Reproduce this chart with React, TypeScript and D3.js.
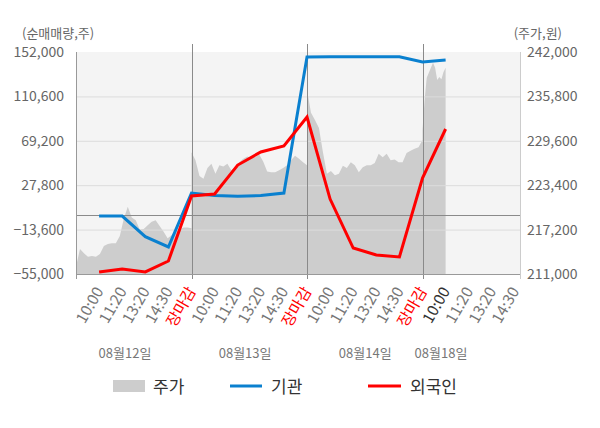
import React, { useEffect, useRef } from 'react'
import * as d3 from 'd3'

// x axis: one slot per provisional-data time
const timeLabels = [
	'10:00', '11:20', '13:20', '14:30', '장마감',
	'10:00', '11:20', '13:20', '14:30', '장마감',
	'10:00', '11:20', '13:20', '14:30', '장마감',
	'10:00', '11:20', '13:20', '14:30',
]
const dayLabels = ['08월12일', '08월13일', '08월14일', '08월18일']

// net buying (주), one value per slot up to now
const institution = [
	-1000, -1000, -20200, -29800, 20500,
	18200, 17400, 18200, 20500, 147300,
	147600, 147600, 147600, 147600, 142700,
	144500,
]
const foreign = [
	-53100, -50300, -53100, -42900, 17700,
	19600, 46600, 58800, 64400, 91400,
	14900, -30800, -37300, -39100, 34500,
	80200,
]

// price (원), evenly spaced samples through each session
const priceDay1 = [212000, 214500, 213900, 213400, 213500, 213400, 213800, 214900, 215200, 215300, 215300, 216300, 218700, 220400, 218900, 218500, 217200, 217300, 217800, 218300, 218500, 217700, 216900, 216000, 216400, 216900, 217200, 217500, 217500, 217400]
const priceDay2 = [228000, 226900, 224700, 224300, 225800, 226400, 225000, 226200, 226000, 226400, 225500, 225900, 226600, 227100, 227400, 227200, 227300, 227700, 226700, 225300, 225200, 225200, 225500, 225800, 226200, 226900, 227500, 227100, 226600, 226200]
const priceDay3 = [236700, 233500, 232500, 231400, 228000, 225000, 225400, 224800, 225000, 226100, 225800, 226600, 226200, 225200, 225900, 226200, 226200, 226500, 227800, 227300, 227800, 226900, 227000, 226600, 226600, 227900, 228200, 228500, 228700, 229700]
const priceDay4 = [231100, 235300, 238400, 239100, 239800, 240500, 239800, 238100, 238500, 238200, 239200, 239800]

const leftTicks = [152000, 110600, 69200, 27800, -13600, -55000]
const rightTicks = [242000, 235800, 229600, 223400, 217200, 211000]

export default function App() {
	const ref = useRef<SVGSVGElement>(null)

	useEffect(() => {
		drawChart()
	}, [])

	const drawChart = () => {
		const width = 600
		const height = 428
		const plot = { left: 76, right: 520, top: 52, bottom: 274 }
		const font = '"Noto Sans CJK KR", "Noto Sans", sans-serif'

		const svg = d3.select(ref.current)
		svg.selectAll('*').remove()
		svg.attr('width', width).attr('height', height)

		const x = d3.scaleLinear().domain([-1, 18.22]).range([plot.left, plot.right])
		const yL = d3.scaleLinear().domain([-55000, 152000]).range([plot.bottom, plot.top])
		const yR = d3.scaleLinear().domain([211000, 242000]).range([plot.bottom, plot.top])
		const fmt = d3.format(',')

		// background
		svg.append('rect')
			.attr('x', plot.left).attr('y', plot.top)
			.attr('width', plot.right - plot.left).attr('height', plot.bottom - plot.top)
			.attr('fill', '#f4f4f4')

		// price area
		const sessions = [
			{ start: -1, span: 5, data: priceDay1 },
			{ start: 4, span: 5, data: priceDay2 },
			{ start: 9, span: 5, data: priceDay3 },
			{ start: 14, span: 1, data: priceDay4 },
		]
		const pricePoints = sessions.flatMap(d =>
			d.data.map((p, j) => ({ s: d.start + (d.span * j) / (d.data.length - 1), p }))
		)
		const area = d3.area<{ s: number, p: number }>()
			.x(d => x(d.s))
			.y0(plot.bottom)
			.y1(d => yR(d.p))
		svg.append('path')
			.attr('d', area(pricePoints))
			.attr('fill', '#cdcdcd')

		// grid
		svg.append('g')
			.selectAll('line')
			.data(leftTicks.slice(1, -1))
			.enter()
			.append('line')
			.attr('x1', plot.left).attr('x2', plot.right)
			.attr('y1', d => yL(d) + 0.5).attr('y2', d => yL(d) + 0.5)
			.attr('stroke', '#dcdcdc')

		// zero line
		svg.append('line')
			.attr('x1', plot.left).attr('x2', plot.right)
			.attr('y1', Math.round(yL(0)) + 0.5).attr('y2', Math.round(yL(0)) + 0.5)
			.attr('stroke', '#8a8a8a')

		// day separators
		svg.append('g')
			.selectAll('line')
			.data([4, 9, 14])
			.enter()
			.append('line')
			.attr('x1', d => Math.round(x(d)) + 0.5).attr('x2', d => Math.round(x(d)) + 0.5)
			.attr('y1', plot.top - 8).attr('y2', plot.bottom + 5)
			.attr('stroke', '#8a8a8a')

		// axes lines
		svg.append('line')
			.attr('x1', plot.left + 0.5).attr('x2', plot.left + 0.5)
			.attr('y1', plot.top).attr('y2', plot.bottom + 5)
			.attr('stroke', '#999')
		svg.append('line')
			.attr('x1', plot.right + 0.5).attr('x2', plot.right + 0.5)
			.attr('y1', plot.top).attr('y2', plot.bottom + 5)
			.attr('stroke', '#ccc')
		svg.append('line')
			.attr('x1', plot.left).attr('x2', plot.right)
			.attr('y1', plot.bottom + 0.5).attr('y2', plot.bottom + 0.5)
			.attr('stroke', '#999')

		// lines
		const line = d3.line<number>()
			.x((_, i) => x(i))
			.y(d => yL(d))
		svg.append('path')
			.attr('d', line(institution))
			.attr('fill', 'none')
			.attr('stroke', '#0a80cf')
			.attr('stroke-width', 3)
		svg.append('path')
			.attr('d', line(foreign))
			.attr('fill', 'none')
			.attr('stroke', '#ff0000')
			.attr('stroke-width', 3)

		// left tick labels
		svg.append('g')
			.selectAll('text')
			.data(leftTicks)
			.enter()
			.append('text')
			.attr('x', plot.left - 12)
			.attr('y', d => yL(d))
			.attr('dy', '0.35em')
			.attr('text-anchor', 'end')
			.style('font-family', font)
			.style('font-size', '14px')
			.style('fill', '#666')
			.text(d => fmt(d))

		// right tick labels
		svg.append('g')
			.selectAll('text')
			.data(rightTicks)
			.enter()
			.append('text')
			.attr('x', plot.right + 7)
			.attr('y', d => yR(d))
			.attr('dy', '0.35em')
			.style('font-family', font)
			.style('font-size', '14px')
			.style('fill', '#666')
			.text(d => fmt(d))

		// axis titles
		svg.append('text')
			.attr('x', 22).attr('y', 38)
			.style('font-family', font).style('font-size', '13px').style('fill', '#666')
			.text('(순매매량,주)')
		svg.append('text')
			.attr('x', 562).attr('y', 38)
			.attr('text-anchor', 'end')
			.style('font-family', font).style('font-size', '13px').style('fill', '#666')
			.text('(주가,원)')

		// time labels
		svg.append('g')
			.selectAll('text')
			.data(timeLabels)
			.enter()
			.append('text')
			.attr('text-anchor', 'end')
			.attr('transform', (_, i) => `translate(${x(i) + 5}, ${plot.bottom + 17}) rotate(-60)`)
			.style('font-family', font)
			.style('font-size', '15.5px')
			.style('fill', (d, i) => d === '장마감' ? '#ff0000' : i === 15 ? '#333' : '#777')
			.text(d => d)

		// date labels
		const dateLabelAt = [1.12, 6.32, 11.52, 14.8]
		svg.append('g')
			.selectAll('text')
			.data(dayLabels)
			.enter()
			.append('text')
			.attr('x', (_, i) => x(dateLabelAt[i]))
			.attr('y', 358)
			.attr('text-anchor', 'middle')
			.style('font-family', font)
			.style('font-size', '13px')
			.style('fill', '#777')
			.text(d => d)

		// legend
		const legend = svg.append('g').style('font-family', font).style('font-size', '17px').style('fill', '#333')
		legend.append('rect').attr('x', 113).attr('y', 380).attr('width', 32).attr('height', 12).attr('fill', '#cdcdcd')
		legend.append('text').attr('x', 153).attr('y', 393).text('주가')
		legend.append('line').attr('x1', 230).attr('x2', 262).attr('y1', 386).attr('y2', 386).attr('stroke', '#0a80cf').attr('stroke-width', 3)
		legend.append('text').attr('x', 271).attr('y', 393).text('기관')
		legend.append('line').attr('x1', 368).attr('x2', 401).attr('y1', 386).attr('y2', 386).attr('stroke', '#ff0000').attr('stroke-width', 3)
		legend.append('text').attr('x', 410).attr('y', 393).text('외국인')
	}

	return (
		<svg ref={ref} style={{ position: 'absolute', left: 0, top: 0 }} />
	)
}
